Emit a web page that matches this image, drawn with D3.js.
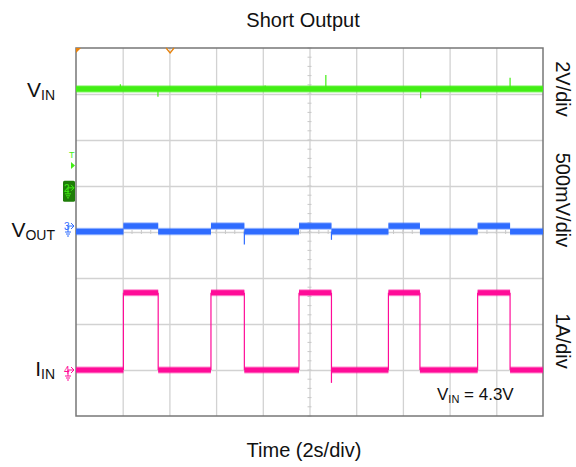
<!DOCTYPE html>
<html>
<head>
<meta charset="utf-8">
<script src="https://cdn.jsdelivr.net/npm/d3@7"></script>
<style>
    body { margin: 0; background: #fff; }
    svg text { font-family: "Liberation Sans", Arial, sans-serif; fill: #111; }
</style>
</head>
<body>
<div id="scope"></div>
<script>
// Scope capture values
var timeSpan = [0, 20];                 // 10 div x 2 s/div
var timeGrid = [2, 4, 6, 8, 10, 12, 14, 16, 18];
var divGrid = [-3, -2, -1, 0, 1, 2, 3];

// rise / fall times of the load pulses (s)
var edgeTimes = [2.03, 3.52, 5.78, 7.21, 9.55, 10.94, 13.38, 14.73, 17.20, 18.59];

var vinLevel = 4.3;                     // V
var voutLevels = [-0.06, 0.0];          // V, low / high
var iinLevels = [0.0, 1.68];            // A, low / high

// glitches [time s, value]
var vinSpikes = [[3.51, 3.96], [10.7, 4.91], [14.76, 3.9], [18.59, 4.79], [1.9, 4.5], [8.1, 4.45]];
var voutSpikes = [[7.21, -0.2], [10.94, -0.15]];
var iinSpikes = [[10.94, -0.28]];

// channel setup: volts (amps) per div, ground marker position in div
var ch2 = { perDiv: 2, offset: 0.96, color: "#42ee14", dark: "#1e7d08" };
var ch3 = { perDiv: 0.5, offset: 0.13, color: "#2f6cff" };
var ch4 = { perDiv: 1, offset: -3, color: "#ff0c98" };

// Define svg container dimensions
var svgWidth = 576;
var svgHeight = 467;

var margin = { top: 48, bottom: 51, left: 76, right: 33 };

var width = svgWidth - margin.left - margin.right;
var height = svgHeight - margin.top - margin.bottom;

var svg = d3.select("#scope")
    .append("svg")
    .attr("width", svgWidth)
    .attr("height", svgHeight);

var chartGroup = svg.append("g")
    .attr("transform", `translate(${margin.left}, ${margin.top})`);

// Scales: time in seconds, vertical in divisions
var x = d3.scaleLinear().domain(timeSpan).range([0, width]);
var y = d3.scaleLinear().domain([-4, 4]).range([height, 0]);

function toY(ch, v) {
    return y(ch.offset + v / ch.perDiv);
}

// Grid
chartGroup.append("g")
    .attr("transform", `translate(0, ${height})`)
    .call(d3.axisBottom(x).tickValues(timeGrid).tickSize(-height).tickFormat(""))
    .call(g => g.select(".domain").remove())
    .call(g => g.selectAll("line").attr("stroke", "#d2d2d2").attr("stroke-width", 1.3));

chartGroup.append("g")
    .call(d3.axisLeft(y).tickValues(divGrid).tickSize(-width).tickFormat(""))
    .call(g => g.select(".domain").remove())
    .call(g => g.selectAll("line").attr("stroke", "#d2d2d2").attr("stroke-width", 1.3));

// minor ticks on the centre lines
chartGroup.append("g").selectAll("line")
    .data(d3.range(-4, 4.01, 0.2))
    .enter().append("line")
    .attr("x1", x(10) - 2).attr("x2", x(10) + 2)
    .attr("y1", d => y(d)).attr("y2", d => y(d))
    .attr("stroke", "#c8c8c8");

chartGroup.append("g").selectAll("line")
    .data(d3.range(0, 20.01, 0.4))
    .enter().append("line")
    .attr("y1", y(0) - 2).attr("y2", y(0) + 2)
    .attr("x1", d => x(d)).attr("x2", d => x(d))
    .attr("stroke", "#c8c8c8");

// Frame
chartGroup.append("rect")
    .attr("width", width)
    .attr("height", height)
    .attr("fill", "none")
    .attr("stroke", "#777")
    .attr("stroke-width", 1.5);

// Build step segments from the edge list
function segments(levels) {
    var bounds = [timeSpan[0]].concat(edgeTimes, [timeSpan[1]]);
    var segs = [];
    for (var i = 0; i < bounds.length - 1; i++) {
        segs.push({ t0: bounds[i], t1: bounds[i + 1], v: levels[i % 2] });
    }
    return segs;
}

function drawBands(ch, segs, band) {
    var g = chartGroup.append("g");
    g.selectAll(".halo").data(segs).enter().append("rect")
        .attr("x", d => x(d.t0))
        .attr("width", d => x(d.t1) - x(d.t0))
        .attr("y", d => toY(ch, d.v) - band / 2 - 1)
        .attr("height", band + 2)
        .attr("fill", ch.color)
        .attr("opacity", 0.45);
    g.selectAll(".core").data(segs).enter().append("rect")
        .attr("x", d => x(d.t0))
        .attr("width", d => x(d.t1) - x(d.t0))
        .attr("y", d => toY(ch, d.v) - band / 2)
        .attr("height", band)
        .attr("fill", ch.color);
    return g;
}

function drawSpikes(ch, spikes, base) {
    chartGroup.append("g").selectAll("line")
        .data(spikes)
        .enter().append("line")
        .attr("x1", d => x(d[0])).attr("x2", d => x(d[0]))
        .attr("y1", toY(ch, base)).attr("y2", d => toY(ch, d[1]))
        .attr("stroke", ch.color)
        .attr("stroke-width", 1.2);
}

// VIN (channel 2)
drawBands(ch2, [{ t0: timeSpan[0], t1: timeSpan[1], v: vinLevel }], 5.5);
drawSpikes(ch2, vinSpikes, vinLevel);

// VOUT (channel 3)
drawSpikes(ch3, voutSpikes, voutLevels[0]);
drawBands(ch3, segments(voutLevels), 5.5);

// IIN (channel 4)
var iinGroup = drawBands(ch4, segments(iinLevels), 5);
iinGroup.selectAll(".edge").data(edgeTimes).enter().append("line")
    .attr("x1", d => x(d)).attr("x2", d => x(d))
    .attr("y1", toY(ch4, iinLevels[0])).attr("y2", toY(ch4, iinLevels[1]))
    .attr("stroke", ch4.color)
    .attr("stroke-width", 1.2);
drawSpikes(ch4, iinSpikes, iinLevels[0]);

// Scope markers: trigger corner, trigger position, trigger level, grounds
var orange = "#e8820c";
chartGroup.append("path")
    .attr("d", "M0,0 L5,0 L0,5 Z")
    .attr("fill", orange);
chartGroup.append("path")
    .attr("d", `M${x(4.03) - 4},0 L${x(4.03)},5 L${x(4.03) + 4},0`)
    .attr("fill", "none")
    .attr("stroke", orange)
    .attr("stroke-width", 1.3);

chartGroup.append("text")
    .attr("x", -7).attr("y", 110)
    .style("font-size", "9px")
    .style("fill", ch2.color)
    .text("T");
chartGroup.append("path")
    .attr("d", "M-5,114 L-1,117.5 L-5,121 Z")
    .attr("fill", ch2.color);

function groundMarker(ch, label, boxed) {
    var gy = toY(ch, 0);
    var g = chartGroup.append("g").attr("transform", `translate(-13, ${gy})`);
    if (boxed) {
        g.append("rect")
            .attr("x", 0).attr("y", -7)
            .attr("width", 12).attr("height", 21)
            .attr("rx", 1.5)
            .attr("fill", ch.dark);
    }
    g.append("text")
        .attr("x", 1).attr("y", 4)
        .style("font-size", "10px")
        .style("fill", ch.color)
        .text(label);
    g.append("path").attr("d", "M5,0 L11,0 M8,-3 L11,0 L8,3")
        .attr("stroke", ch.color).attr("fill", "none").attr("stroke-width", 1);
    g.append("path").attr("d", "M5,0 L5,6 M2,6 L8,6 M3,8 L7,8 M4,10 L6,10")
        .attr("stroke", ch.color).attr("fill", "none").attr("stroke-width", 1);
}
groundMarker(ch2, "2", true);
groundMarker(ch3, "3", false);
groundMarker(ch4, "4", false);

// Channel names on the left
var leftLabels = [["V", "IN", 97], ["V", "OUT", 237], ["I", "IN", 376]];
leftLabels.forEach(function (d) {
    var t = svg.append("text")
        .attr("x", 55).attr("y", d[2])
        .attr("text-anchor", "end")
        .style("font-size", "21px");
    t.append("tspan").text(d[0]);
    t.append("tspan").attr("dy", 3).style("font-size", "14px").text(d[1]);
});

// Scale labels on the right
var rightLabels = [["2V/div", 89], ["500mV/div", 200], ["1A/div", 341]];
rightLabels.forEach(function (d) {
    svg.append("text")
        .attr("transform", `translate(556, ${d[1]}) rotate(90)`)
        .attr("text-anchor", "middle")
        .style("font-size", "20px")
        .text(d[0]);
});

// Title and axis label
svg.append("text")
    .attr("x", 303).attr("y", 27)
    .attr("text-anchor", "middle")
    .style("font-size", "20px")
    .text("Short Output");

svg.append("text")
    .attr("x", 304).attr("y", 457)
    .attr("text-anchor", "middle")
    .style("font-size", "20px")
    .text("Time (2s/div)");

// Input voltage note
var note = svg.append("text")
    .attr("x", 437).attr("y", 400)
    .style("font-size", "17px");
note.append("tspan").text("V");
note.append("tspan").attr("dy", 3).style("font-size", "11px").text("IN");
note.append("tspan").attr("dy", -3).text(" = " + vinLevel + "V");
</script>
</body>
</html>
